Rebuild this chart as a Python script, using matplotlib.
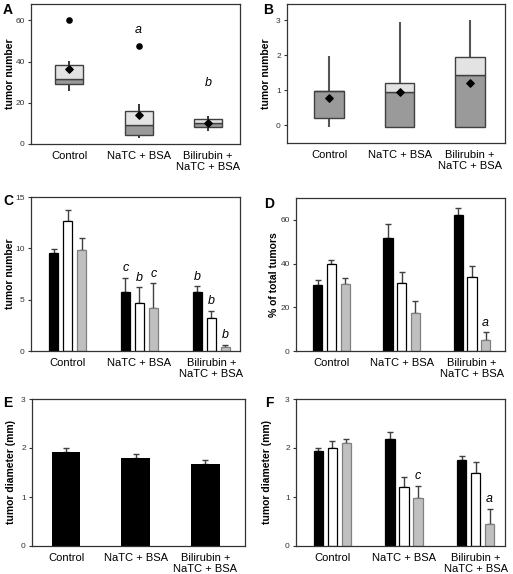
import matplotlib
matplotlib.use('Agg')
import matplotlib.pyplot as plt
import numpy as np

plt.rcParams['font.family'] = ['Liberation Sans', 'DejaVu Sans']

groups = ['Control', 'NaTC + BSA', 'Bilirubin +\nNaTC + BSA']

# panel A - box plot of tumor number
a_q1 = [28.9, 4.5, 8.3]
a_med = [31.8, 9.1, 10.4]
a_q3 = [38.3, 16.2, 12.0]
a_wlo = [25.6, 2.9, 6.2]
a_whi = [40.2, 19.3, 13.6]
a_mean = [36.3, 14.1, 10.1]
a_out_x = [0, 1]
a_out_y = [60.0, 47.8]
a_sig = ['', 'a', 'b']
a_sig_y = [0, 55.5, 29.5]

# panel B - box plot
b_q1 = [0.21, -0.05, -0.05]
b_med = [0.97, 0.94, 1.44]
b_q3 = [0.98, 1.22, 1.96]
b_wlo = [-0.05, -0.05, -0.05]
b_whi = [1.98, 2.96, 3.0]
b_mean = [0.78, 0.95, 1.21]

# panel C - tumor number (black, white, grey series)
c_vals = [[9.52, 5.77, 5.77], [12.62, 4.63, 3.26], [9.85, 4.14, 0.39]]
c_err = [[0.38, 1.37, 0.53], [1.14, 1.57, 0.64], [1.2, 2.45, 0.23]]
c_sig = [['', 'c', 'b'], ['', 'b', 'b'], ['', 'c', 'b']]

# panel D - % of total tumors
d_vals = [[30.3, 51.9, 62.3], [39.7, 31.1, 33.7], [30.6, 17.4, 4.9]]
d_err = [[2.3, 6.3, 3.3], [2.0, 5.0, 5.0], [2.7, 5.3, 3.6]]
d_sig = [['', '', ''], ['', '', ''], ['', '', 'a']]

# panel E - tumor diameter
e_vals = [1.91, 1.79, 1.68]
e_err = [0.09, 0.09, 0.08]

# panel F - tumor diameter (three series)
f_vals = [[1.93, 2.18, 1.75], [2.0, 1.2, 1.49], [2.1, 0.97, 0.45]]
f_err = [[0.07, 0.14, 0.08], [0.15, 0.2, 0.23], [0.08, 0.26, 0.31]]
f_sig = [['', '', ''], ['', '', ''], ['', 'c', 'a']]

W, H = 513, 574
fig = plt.figure(figsize=(W / 100, H / 100), dpi=100)


def make_ax(l, r, t, b):
    return fig.add_axes([l / W, 1 - b / H, (r - l) / W, (b - t) / H])


def style(ax, ylabel, yticks, ylim, xlim, labx, letter, lx, ly):
    ax.set_ylim(*ylim)
    ax.set_xlim(*xlim)
    ax.set_yticks(yticks)
    ax.set_xticks([0, 1, 2])
    ax.set_xticklabels(groups, fontsize=8, linespacing=1.1)
    ax.tick_params(axis='x', length=0, pad=5)
    ax.tick_params(axis='y', labelsize=6, length=2.5, width=0.8, pad=2, colors='#333333')
    for s in ax.spines.values():
        s.set_color('#333333')
        s.set_linewidth(0.9)
    ax.set_ylabel(ylabel, fontsize=7.5, fontweight='bold')
    ax.yaxis.set_label_coords(labx, 0.5)
    fig.text(lx / W, 1 - ly / H, letter, fontsize=10, fontweight='bold', ha='center', va='center')


def boxes(ax, q1, med, q3, wlo, whi, mean, wcol, wlw, width):
    x = np.arange(3)
    ax.vlines(x, wlo, q1, color=wcol, lw=wlw, zorder=1)
    ax.vlines(x, q3, whi, color=wcol, lw=wlw, zorder=1)
    ax.bar(x, np.subtract(med, q1), width, bottom=q1, color='#9a9a9a',
           edgecolor='#404040', lw=1, zorder=2)
    ax.bar(x, np.subtract(q3, med), width, bottom=med, color='#e3e3e3',
           edgecolor='#404040', lw=1, zorder=2)
    ax.scatter(x, mean, marker='D', s=14, color='black', zorder=4)


def grouped(ax, vals, err, sig):
    cols = ['black', 'white', '#c0c0c0']
    edges = ['black', 'black', '#808080']
    x = np.arange(3)
    for i in range(3):
        xi = x + (i - 1) * 0.195
        ax.bar(xi, vals[i], 0.13, color=cols[i], edgecolor=edges[i], lw=0.9, zorder=2)
        ax.errorbar(xi, vals[i], yerr=[np.zeros(3), err[i]], fmt='none',
                    ecolor='#404040', elinewidth=1, capsize=2.2, capthick=1, zorder=1)
        for j in range(3):
            if sig[i][j]:
                ax.annotate(sig[i][j], (xi[j], vals[i][j] + err[i][j]),
                            xytext=(0, 2.5), textcoords='offset points',
                            ha='center', va='bottom', fontsize=9, style='italic')


# A
axA = make_ax(31, 240, 4, 144)
boxes(axA, a_q1, a_med, a_q3, a_wlo, a_whi, a_mean, 'black', 1.1, 0.4)
axA.scatter(a_out_x, a_out_y, s=14, color='black', zorder=4)
for i in range(3):
    if a_sig[i]:
        axA.text(i, a_sig_y[i], a_sig[i], fontsize=9, style='italic', ha='center', va='center')
style(axA, 'tumor number', [0, 20, 40, 60], (0, 68), (-0.55, 2.46), -0.077, 'A', 8, 10)

# B
axB = make_ax(287, 505, 4, 143)
boxes(axB, b_q1, b_med, b_q3, b_wlo, b_whi, b_mean, '#555555', 1.5, 0.42)
style(axB, 'tumor number', [0, 1, 2, 3], (-0.5, 3.46), (-0.6, 2.5), -0.073, 'B', 268, 10)

# C
axC = make_ax(31, 240, 197, 351)
grouped(axC, c_vals, c_err, c_sig)
style(axC, 'tumor number', [0, 5, 10, 15], (0, 15), (-0.51, 2.4), -0.077, 'C', 8, 201)

# D
axD = make_ax(296, 505, 198, 351)
grouped(axD, d_vals, d_err, d_sig)
style(axD, '% of total tumors', [0, 20, 40, 60], (0, 70), (-0.505, 2.47), -0.083, 'D', 269, 204)

# E
axE = make_ax(32, 245, 399, 546)
axE.bar(np.arange(3), e_vals, 0.41, color='black', zorder=2)
axE.errorbar(np.arange(3), e_vals, yerr=[np.zeros(3), e_err], fmt='none',
             ecolor='#404040', elinewidth=1, capsize=2.5, capthick=1, zorder=1)
style(axE, 'tumor diameter (mm)', [0, 1, 2, 3], (0, 3), (-0.49, 2.57), -0.075, 'E', 8, 403)

# F
axF = make_ax(296, 505, 399, 546)
grouped(axF, f_vals, f_err, f_sig)
style(axF, 'tumor diameter (mm)', [0, 1, 2, 3], (0, 3), (-0.506, 2.41), -0.115, 'F', 269, 403)

fig.savefig('out.png', dpi=100)
